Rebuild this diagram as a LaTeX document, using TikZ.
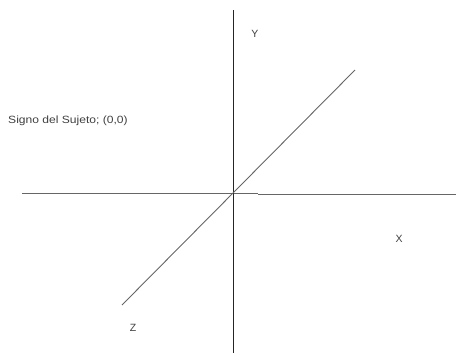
\documentclass[tikz,border=0pt]{standalone}
\usepackage{fontspec}
\setmainfont{Liberation Sans}
\begin{document}
\begin{tikzpicture}[x=1pt,y=-1pt,
  lbl/.style={inner sep=0pt,font=\fontsize{10.5}{12}\selectfont,text=black!75},
  axis/.style={line width=1pt,draw=black!60},
  vaxis/.style={line width=1pt,draw=black!85}]
\useasboundingbox (0,0) rectangle (456,354);
\coordinate (hl) at (22,193.5);
\coordinate (hm) at (258,193.5);
\coordinate (hm2) at (258,194.5);
\coordinate (hr) at (456,194.5);
\coordinate (vt) at (233.5,10);
\coordinate (vb) at (233.5,353);
\coordinate (dt) at (355,70);
\coordinate (db) at (122,305);
\draw[axis] (hl) -- (hm);
\draw[axis] (hm2) -- (hr);
\draw[vaxis] (vt) -- (vb);
\draw[axis,line width=0.9pt] (db) -- (dt);
\node[lbl] (y) at (255,34) {Y};
\node[lbl] (x) at (399,239) {X};
\node[lbl] (z) at (133,328) {Z};
\node[lbl,anchor=west] (s) at (8,121) {\scalebox{1.15}[1]{Signo del Sujeto; (0,0)}};
\end{tikzpicture}
\end{document}
